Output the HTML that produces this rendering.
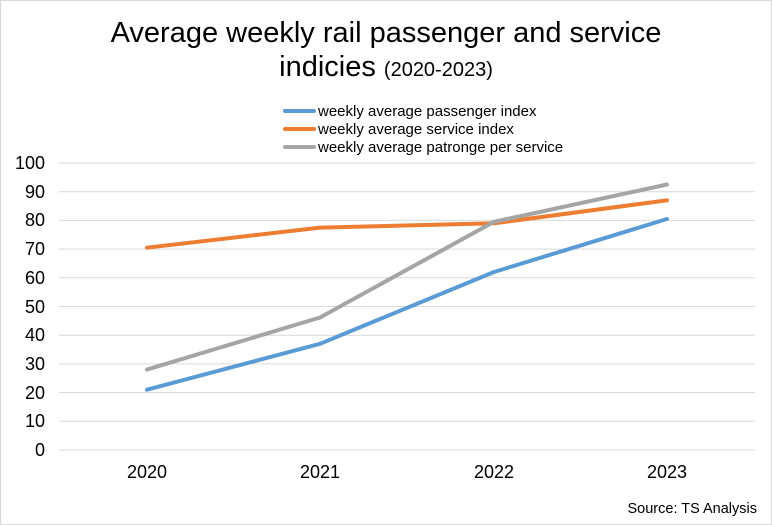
<!DOCTYPE html>
<html><head><meta charset="utf-8"><style>
html,body{margin:0;padding:0;background:#fff}
svg{display:block;font-family:"Liberation Sans",Arial,sans-serif}
</style></head><body>
<svg width="772" height="525" viewBox="0 0 772 525" xmlns="http://www.w3.org/2000/svg">
<rect x="0.5" y="0.5" width="771" height="524" fill="#fff" stroke="#d9d9d9"/>
<text x="386" y="42" font-size="29" text-anchor="middle" fill="#000">Average weekly rail passenger and service</text>
<text x="386" y="76" text-anchor="middle" fill="#000"><tspan font-size="29">indicies </tspan><tspan font-size="20">(2020-2023)</tspan></text>
<g stroke-width="4" stroke-linecap="round">
<line x1="285" y1="111" x2="314" y2="111" stroke="#5b9bd5"/>
<line x1="285" y1="129" x2="314" y2="129" stroke="#ed7d31"/>
<line x1="285" y1="147" x2="314" y2="147" stroke="#a5a5a5"/>
</g>
<g font-size="15" fill="#000">
<text x="318" y="116">weekly average passenger index</text>
<text x="318" y="134">weekly average service index</text>
<text x="318" y="152">weekly average patronge per service</text>
</g>
<g stroke="#d9d9d9" stroke-width="1">
<line x1="59" x2="755" y1="163" y2="163"/><line x1="59" x2="755" y1="191.7" y2="191.7"/>
<line x1="59" x2="755" y1="220.4" y2="220.4"/><line x1="59" x2="755" y1="249.1" y2="249.1"/>
<line x1="59" x2="755" y1="277.8" y2="277.8"/><line x1="59" x2="755" y1="306.5" y2="306.5"/>
<line x1="59" x2="755" y1="335.2" y2="335.2"/><line x1="59" x2="755" y1="363.9" y2="363.9"/>
<line x1="59" x2="755" y1="392.6" y2="392.6"/><line x1="59" x2="755" y1="421.3" y2="421.3"/>
<line x1="59" x2="755" y1="450" y2="450"/>
</g>
<g font-size="18" text-anchor="end" fill="#000">
<text x="45" y="169">100</text><text x="45" y="198">90</text><text x="45" y="226">80</text>
<text x="45" y="255">70</text><text x="45" y="284">60</text><text x="45" y="313">50</text>
<text x="45" y="341">40</text><text x="45" y="370">30</text><text x="45" y="399">20</text>
<text x="45" y="427">10</text><text x="45" y="456">0</text>
</g>
<g font-size="18" text-anchor="middle" fill="#000">
<text x="147" y="478">2020</text><text x="320" y="478">2021</text>
<text x="494" y="478">2022</text><text x="667" y="478">2023</text>
</g>
<g fill="none" stroke-width="4" stroke-linejoin="round" stroke-linecap="round">
<polyline stroke="#5b9bd5" points="147,389.7 320,343.8 494,272 667,219"/>
<polyline stroke="#ed7d31" points="147,247.7 320,227.6 494,223.3 667,200.3"/>
<polyline stroke="#a5a5a5" points="147,369.6 320,317.5 494,221.8 667,184.5"/>
</g>
<text x="757" y="513" font-size="14.5" text-anchor="end" fill="#000">Source: TS Analysis</text>
</svg>
</body></html>
